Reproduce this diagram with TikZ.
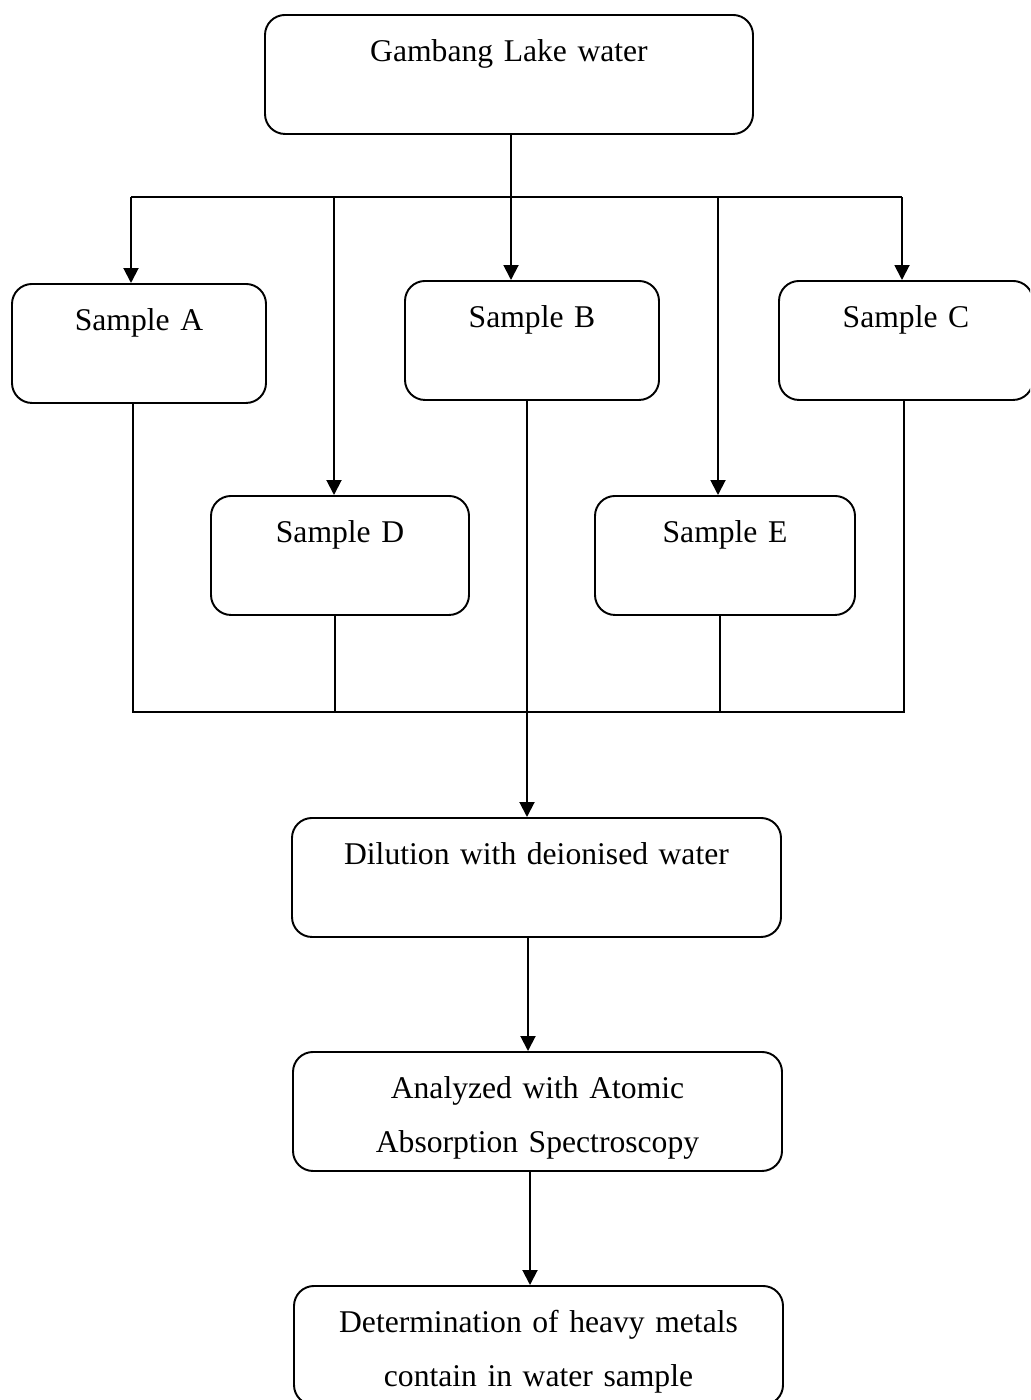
\documentclass[tikz,border=0pt]{standalone}
\usepackage{fontspec}
\setmainfont{Liberation Serif}
\usetikzlibrary{arrows.meta}
\begin{document}
\begin{tikzpicture}[line width=1.1pt,
    box/.style={draw, rounded corners=0.4cm, inner sep=0pt, anchor=north, align=center,
      text height=0.94cm, text depth=1.44cm, font=\fontsize{18}{30.5}\selectfont},
    arr/.style={-{Triangle[width=0.3cm,length=0.3cm]}}]
  \useasboundingbox (0,0) rectangle (20.6,-28);
  \clip (0,0) rectangle (20.6,-28);
  \node[box, text width=9.76cm] (lake) at (10.18,-0.28) {Gambang Lake water};
  \node[box, text width=5.08cm] (sampleA) at (2.78,-5.66) {Sample A};
  \node[box, text width=5.08cm] (sampleB) at (10.64,-5.60) {Sample B};
  \node[box, text width=5.08cm] (sampleC) at (18.12,-5.60) {Sample C};
  \node[box, text width=5.16cm] (sampleD) at (6.80,-9.90) {Sample D};
  \node[box, text width=5.20cm] (sampleE) at (14.50,-9.90) {Sample E};
  \node[box, text width=9.78cm] (dilution) at (10.73,-16.34) {Dilution with deionised water};
  \node[box, text width=9.78cm] (aas) at (10.75,-21.02) {Analyzed with Atomic\\Absorption Spectroscopy};
  \node[box, text width=9.78cm] (metals) at (10.77,-25.70) {Determination of heavy metals\\contain in water sample};
  \coordinate (split) at (10.22,-3.94);
  \coordinate (aIn) at (2.62,-3.94);
  \coordinate (dIn) at (6.68,-3.94);
  \coordinate (eIn) at (14.36,-3.94);
  \coordinate (cIn) at (18.04,-3.94);
  \coordinate (aOut) at (2.66,-14.24);
  \coordinate (dOut) at (6.70,-14.24);
  \coordinate (bOut) at (10.54,-14.24);
  \coordinate (eOut) at (14.40,-14.24);
  \coordinate (cOut) at (18.08,-14.24);
  \coordinate (mid1) at (10.56,-19.50);
  \coordinate (mid2) at (10.60,-24.20);
  \draw (split |- lake.south) -- (split);
  \draw (aIn) -- (cIn);
  \draw[arr] (split) -- (split |- sampleB.north);
  \draw[arr] (aIn) -- (aIn |- sampleA.north);
  \draw[arr] (dIn) -- (dIn |- sampleD.north);
  \draw[arr] (eIn) -- (eIn |- sampleE.north);
  \draw[arr] (cIn) -- (cIn |- sampleC.north);
  \draw (aOut |- sampleA.south) -- (aOut) -- (cOut) -- (cOut |- sampleC.south);
  \draw (dOut |- sampleD.south) -- (dOut);
  \draw (eOut |- sampleE.south) -- (eOut);
  \draw[arr] (bOut |- sampleB.south) -- (bOut |- dilution.north);
  \draw[arr] (mid1 |- dilution.south) -- (mid1 |- aas.north);
  \draw[arr] (mid2 |- aas.south) -- (mid2 |- metals.north);
\end{tikzpicture}
\end{document}
